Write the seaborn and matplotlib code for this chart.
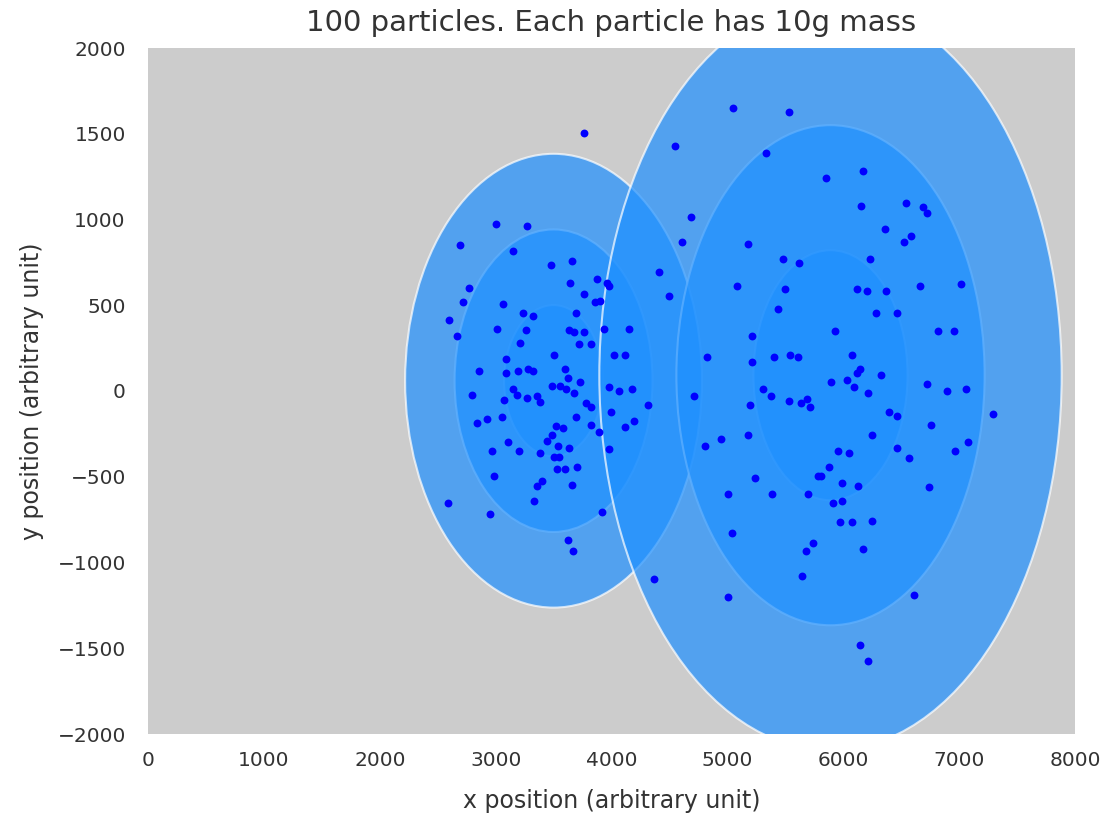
import matplotlib
matplotlib.use("Agg")
import matplotlib.pyplot as plt
from matplotlib.patches import Ellipse
import seaborn as sns
import pandas as pd

# particle positions (arbitrary units)
x_pos = [3765, 3000, 3274, 2693, 3153, 3475, 3659, 2770, 3642, 3872, 3964, 3981, 3765,
         5051, 5532, 4548, 5331, 4686, 4608, 5175, 5480, 5618, 4407, 5084, 5497, 4499,
         5851, 6174, 6156, 6539, 6691, 6723, 6358, 6588, 6524, 6234, 6121, 6205, 6369, 6662, 7014,
         2721, 3061, 2600, 3239, 3323, 3691, 3858, 3901, 2664, 3012, 3260, 3631, 3676, 3765, 3935,
         3213, 3720, 3826, 3504, 4024, 3090, 2859, 3090, 3196, 3277, 3323, 3596, 3628, 3731,
         3484, 3553, 3605, 3673, 3978, 4067, 2799, 3150, 3184, 3075, 3274, 3354, 3383, 3780, 3826,
         3996, 2842, 2923, 3058, 3691, 3518, 3581, 3826, 3889, 3484, 3443, 3104, 3534, 3631, 3981,
         2969, 3202, 3383, 3504, 3550, 3530, 3599, 3705, 2983, 3397, 3354, 3656, 2586, 2954, 3334,
         3918, 3628, 3671,
         5440, 4151, 5209, 4119, 4821, 5209, 5405, 5540, 5607, 4180, 4318, 4715, 5307, 5374, 5193,
         5529, 5633, 5684, 5713, 4197, 4114, 4807, 4945, 5175, 5236, 5785,
         6280, 6460, 5926, 6815, 6953, 6078, 6144, 6121, 6326, 5894, 6032, 6095, 6216, 6723, 6893,
         7062, 7292, 6397, 6460, 6757, 6248, 7077, 6967, 6460, 6570, 5957, 6049, 5880, 5805, 5989,
         6127, 6740, 5696, 5909, 5989, 5972, 6078, 6248, 5741, 5678, 6170, 5644, 6613, 6142, 6216,
         5008, 5388, 5040, 4364, 5008]
y_pos = [1502, 975, 964, 851, 816, 736, 756, 602, 631, 653, 631, 612, 564,
         1648, 1627, 1430, 1389, 1016, 869, 859, 768, 748, 696, 612, 593, 554,
         1244, 1284, 1079, 1098, 1071, 1036, 944, 904, 869, 768, 593, 581, 581, 612, 624,
         519, 509, 416, 456, 437, 456, 519, 526, 322, 363, 354, 354, 342, 342, 363,
         282, 272, 272, 208, 208, 187, 115, 105, 115, 127, 115, 127, 74, 52,
         31, 31, 12, -10, 22, 2, -22, 10, -22, -51, -41, -31, -62, -70, -91,
         -122, -185, -165, -153, -153, -206, -216, -196, -237, -258, -290, -299, -319, -330, -340,
         -352, -352, -361, -383, -383, -455, -455, -445, -496, -525, -552, -546, -651, -715, -643,
         -705, -870, -931,
         476, 361, 322, 208, 196, 167, 196, 208, 196, 12, -82, -29, 12, -29, -82,
         -60, -70, -48, -91, -175, -208, -319, -278, -258, -509, -496,
         456, 456, 352, 352, 352, 210, 127, 105, 93, 52, 64, 22, -10, 43, 2,
         12, -134, -122, -144, -196, -258, -299, -352, -330, -392, -352, -361, -445, -496, -536,
         -552, -561, -600, -653, -641, -766, -766, -756, -888, -931, -923, -1079, -1191, -1481, -1574,
         -600, -600, -830, -1098, -1203]

# cluster summaries (centre and standard deviation)
cluster_cx = [3500, 5890]
cluster_cy = [60, 92]
cluster_sx = [427, 665]
cluster_sy = [441, 729]
n_std = [1, 2, 3]

x_ticks = [0, 1000, 2000, 3000, 4000, 5000, 6000, 7000, 8000]
y_ticks = [-2000, -1500, -1000, -500, 0, 500, 1000, 1500, 2000]

df = pd.DataFrame({"x": x_pos, "y": y_pos})

sns.set_style("dark", {"axes.facecolor": "#cccccc", "axes.grid": False})
plt.rcParams["font.family"] = ["DejaVu Sans"]

fig = plt.figure(figsize=(11.07, 8.18), dpi=100)
ax = fig.add_axes([148/1107, 1 - 734/818, (1075-148)/1107, (734-48)/818])

for cx, cy, sx, sy in zip(cluster_cx, cluster_cy, cluster_sx, cluster_sy):
    for n in n_std:
        e = Ellipse((cx, cy), width=2*n*sx, height=2*n*sy,
                    facecolor="dodgerblue", edgecolor="white", lw=1.5, alpha=0.7, zorder=1)
        ax.add_patch(e)

sns.scatterplot(data=df, x="x", y="y", color="blue", s=32, linewidth=0, ax=ax, zorder=3)

ax.set_xlim(0, 8000)
ax.set_ylim(-2000, 2000)
ax.set_xticks(x_ticks)
ax.set_yticks(y_ticks)
ax.tick_params(labelsize=14.5, colors="#333333", length=0)
ax.tick_params(axis="y", pad=16)
ax.tick_params(axis="x", pad=12)
ax.set_xlabel("x position (arbitrary unit)", fontsize=17, color="#333333", labelpad=14)
ax.set_ylabel("y position (arbitrary unit)", fontsize=17, color="#333333", labelpad=10)
ax.set_title("100 particles. Each particle has 10g mass", fontsize=21, color="#333333", pad=12)
for s in ax.spines.values():
    s.set_visible(False)

fig.savefig("out.png", dpi=100)
